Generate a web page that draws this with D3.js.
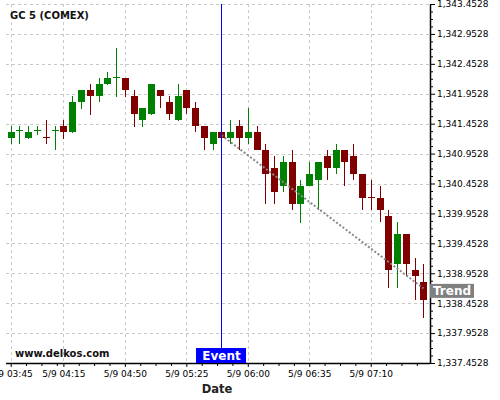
<!DOCTYPE html>
<html>
<head>
<meta charset="utf-8">
<script src="https://cdn.jsdelivr.net/npm/d3@7"></script>
<style>
  body { margin: 0; background: #fff; }
  text { font-family: "DejaVu Sans", sans-serif; }
</style>
</head>
<body>
<div id="chart"></div>
<script>
// 5 minute bars, 9 May
const times = ["03:45","03:50","03:55","04:00","04:05","04:10","04:15","04:20","04:25","04:30","04:35","04:40",
  "04:45","04:50","04:55","05:00","05:05","05:10","05:15","05:20","05:25","05:30","05:35","05:40",
  "05:45","05:50","05:55","06:00","06:05","06:10","06:15","06:20","06:25","06:30","06:35","06:40",
  "06:45","06:50","06:55","07:00","07:05","07:10","07:15","07:20","07:25","07:30","07:35","07:40"];

const open = [1341.22,1341.33,1341.21,1341.33,1341.23,1341.33,1341.41,1341.31,1341.82,1342.02,1341.92,1342.12,
  1342.22,1342.22,1341.92,1341.51,1341.61,1342.02,1341.82,1341.51,1342.02,1341.72,1341.41,1341.11,
  1341.31,1341.21,1341.41,1341.21,1341.31,1341.01,1340.71,1340.41,1340.81,1340.11,1340.41,1340.51,
  1340.91,1340.71,1341.01,1340.91,1340.61,1340.23,1340.21,1339.91,1339.11,1339.61,1339.01,1338.81];
const high = [1341.41,1341.41,1341.41,1341.41,1341.51,1341.41,1341.51,1341.92,1342.02,1342.12,1342.22,1342.32,
  1342.72,1342.22,1342.02,1341.72,1342.12,1342.02,1341.92,1342.12,1342.02,1341.82,1341.41,1341.31,
  1341.31,1341.51,1341.51,1341.72,1341.41,1341.11,1340.91,1340.91,1341.01,1340.51,1340.81,1340.81,
  1341.01,1341.11,1341.01,1341.11,1340.61,1340.51,1340.41,1340.01,1339.81,1339.61,1339.21,1339.11];
const low = [1341.11,1341.11,1341.20,1341.26,1341.11,1341.01,1341.20,1341.30,1341.70,1341.60,1341.81,1342.10,
  1341.90,1341.90,1341.40,1341.40,1341.60,1341.72,1341.51,1341.50,1341.61,1341.31,1341.01,1341.01,
  1341.18,1341.11,1341.01,1341.11,1341.01,1340.11,1340.11,1340.31,1340.01,1339.80,1340.41,1340.01,
  1340.51,1340.61,1340.41,1340.51,1340.01,1340.01,1339.81,1338.71,1338.71,1338.91,1338.51,1338.21];
const close = [1341.31,1341.34,1341.31,1341.34,1341.22,1341.34,1341.31,1341.82,1342.02,1341.92,1342.12,1342.22,
  1342.23,1342.02,1341.61,1341.72,1342.12,1341.92,1341.61,1341.92,1341.72,1341.41,1341.21,1341.31,
  1341.21,1341.31,1341.21,1341.31,1341.01,1340.61,1340.31,1340.81,1340.11,1340.41,1340.61,1340.81,
  1340.71,1341.01,1340.81,1340.61,1340.21,1340.22,1340.01,1339.01,1339.61,1339.11,1338.91,1338.51];

const xTickLabels = ["5/9 03:45","5/9 04:15","5/9 04:50","5/9 05:25","5/9 06:00","5/9 06:35","5/9 07:10"];
const yTicks = [1337.4528,1337.9528,1338.4528,1338.9528,1339.4528,1339.9528,1340.4528,
  1340.9528,1341.4528,1341.9528,1342.4528,1342.9528,1343.4528];

const eventTime = "05:45";
const trendTimes = ["05:45","07:40"];
const trendValues = [1341.26, 1338.70];

const width = 500, height = 400;
const plotLeft = 6.3, plotRight = 430, plotTop = 4, plotBottom = 363;
const up = "#008000", down = "#800000";

const bars = times.map((t, i) => ({ t: t, i: i, o: open[i], h: high[i], l: low[i], c: close[i] }));
const indexOf = t => times.indexOf(t);

const svg = d3.select("#chart").append("svg")
  .attr("width", width)
  .attr("height", height);

const x = d3.scaleLinear()
  .domain([-0.5, 47.75])
  .range([plotLeft, plotRight]);

const y = d3.scaleLinear()
  .domain([yTicks[0], yTicks[yTicks.length - 1]])
  .range([plotBottom, plotTop]);

const majorIdx = xTickLabels.map(s => indexOf(s.split(" ")[1]));
const px = v => Math.round(v) + 0.5;

// grid
let grid = svg.append("g").attr("stroke", "#c8c8c8").attr("stroke-dasharray", "3,3");
grid.selectAll(".gx").data(majorIdx).enter().append("line")
  .attr("x1", d => px(x(d))).attr("x2", d => px(x(d)))
  .attr("y1", plotTop).attr("y2", plotBottom);
grid.selectAll(".gy").data(yTicks).enter().append("line")
  .attr("x1", 6).attr("x2", plotRight)
  .attr("y1", d => px(y(d))).attr("y2", d => px(y(d)));

// candles
let candle = svg.selectAll(".candle")
  .data(bars)
  .enter()
  .append("g")
  .attr("class", "candle")
  .attr("shape-rendering", "crispEdges");

candle.append("line")
  .attr("x1", d => px(x(d.i))).attr("x2", d => px(x(d.i)))
  .attr("y1", d => y(d.h)).attr("y2", d => y(d.l))
  .attr("stroke", d => d.c >= d.o ? up : down)
  .attr("stroke-width", 1);

candle.append("rect")
  .attr("x", d => Math.round(x(d.i) - 3))
  .attr("width", 7)
  .attr("y", d => y(Math.max(d.o, d.c)))
  .attr("height", d => Math.max(1, Math.abs(y(d.o) - y(d.c))))
  .attr("fill", d => d.c >= d.o ? up : down);

// trend line
let trendLine = d3.line()
  .x((d, i) => x(indexOf(trendTimes[i])))
  .y(d => y(d));

svg.append("path")
  .attr("d", trendLine(trendValues))
  .attr("fill", "none")
  .attr("stroke", "#888")
  .attr("stroke-width", 2)
  .attr("stroke-dasharray", "2,2");

// event line
let ex = px(x(indexOf(eventTime)));
svg.append("line")
  .attr("x1", ex).attr("x2", ex)
  .attr("y1", plotTop).attr("y2", 348)
  .attr("stroke", "#0000ff")
  .attr("stroke-width", 1);

// axes
let xAxis = d3.axisBottom(x)
  .tickValues(majorIdx)
  .tickSize(4)
  .tickSizeOuter(0)
  .tickPadding(4)
  .tickFormat((d, i) => xTickLabels[i]);

let gx = svg.append("g")
  .attr("transform", `translate(0, ${plotBottom})`)
  .call(xAxis);
gx.select(".domain").attr("d", `M6,0.5H${plotRight}`).attr("stroke-width", 1.5);

let xMinor = [];
majorIdx.forEach(m => [1, 2, 3].forEach(k => { if (m + k * 1.75 < 47.75) xMinor.push(m + k * 1.75); }));
svg.append("g")
  .attr("transform", `translate(0, ${plotBottom})`)
  .call(d3.axisBottom(x).tickValues(xMinor).tickSize(3).tickFormat(""))
  .select(".domain").remove();

let yAxis = d3.axisRight(y)
  .tickValues(yTicks)
  .tickSize(5)
  .tickSizeOuter(0)
  .tickPadding(2)
  .tickFormat(d3.format(",.4f"));

let gy = svg.append("g")
  .attr("transform", `translate(${plotRight}, 0)`)
  .call(yAxis);
gy.select(".domain").attr("stroke-width", 1.5);

let yMinor = [];
yTicks.slice(0, -1).forEach(t => [1, 2, 3].forEach(k => yMinor.push(t + k * 0.125)));
svg.append("g")
  .attr("transform", `translate(${plotRight}, 0)`)
  .call(d3.axisRight(y).tickValues(yMinor).tickSize(3).tickFormat(""))
  .select(".domain").remove();

svg.selectAll(".tick text")
  .attr("font-family", "DejaVu Sans")
  .attr("font-size", 9)
  .attr("fill", "#000");

// labels
svg.append("text")
  .attr("x", 10).attr("y", 19)
  .attr("font-size", 10).attr("font-weight", "bold")
  .attr("fill", "#111")
  .text("GC 5 (COMEX)");

svg.append("text")
  .attr("x", 15).attr("y", 357)
  .attr("font-size", 10).attr("font-weight", "bold")
  .attr("fill", "#111")
  .text("www.delkos.com");

svg.append("text")
  .attr("x", 217).attr("y", 393)
  .attr("text-anchor", "middle")
  .attr("font-size", 11.5).attr("font-weight", "bold")
  .attr("fill", "#222")
  .text("Date");

svg.append("rect")
  .attr("x", ex - 25.5).attr("y", 348)
  .attr("width", 50).attr("height", 15)
  .attr("fill", "#0000ff");
svg.append("text")
  .attr("x", ex).attr("y", 360)
  .attr("text-anchor", "middle")
  .attr("font-size", 12).attr("font-weight", "bold")
  .attr("fill", "#fff")
  .text("Event");

let ty = y(trendValues[1]) + 2.5;
svg.append("rect")
  .attr("x", plotRight).attr("y", ty - 7)
  .attr("width", 44).attr("height", 14)
  .attr("fill", "#808080");
svg.append("text")
  .attr("x", plotRight + 22).attr("y", ty + 4.5)
  .attr("text-anchor", "middle")
  .attr("font-size", 12).attr("font-weight", "bold")
  .attr("fill", "#fff")
  .text("Trend");
</script>
</body>
</html>
